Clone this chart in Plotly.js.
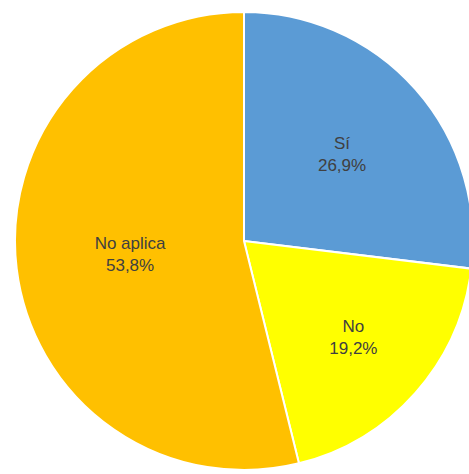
<!DOCTYPE html>
<html>
<head>
<meta charset="utf-8">
<script src="https://cdn.plot.ly/plotly-3.0.1.min.js"></script>
<style>
html,body{margin:0;padding:0;background:#fff;overflow:hidden;}
#chart{width:480px;height:474px;}
</style>
</head>
<body>
<div id="chart"></div>
<script>
var labels = ["Sí", "No", "No aplica"];
var values = [26.9, 19.2, 53.8];
var colors = ["#5B9BD5", "#FFFF00", "#FFC000"];

var W = 480, H = 474;
var trace = {
  type: "pie",
  labels: labels,
  values: values,
  sort: false,
  direction: "clockwise",
  rotation: 0,
  marker: {colors: colors, line: {color: "#ffffff", width: 2}},
  texttemplate: "%{label}<br>%{value:.1f}%",
  textposition: "inside",
  insidetextorientation: "horizontal",
  textfont: {family: "Liberation Sans, Arial, sans-serif", size: 17, color: "#404040"},
  hoverinfo: "none",
  domain: {x: [15 / W, 473 / W], y: [(H - 470) / H, (H - 12) / H]},
  showlegend: false
};
var layout = {
  width: W, height: H,
  margin: {l: 0, r: 0, t: 0, b: 0},
  paper_bgcolor: "#ffffff",
  separators: ",.",
  showlegend: false
};
Plotly.newPlot("chart", [trace], layout, {displayModeBar: false, staticPlot: true});
</script>
</body>
</html>
